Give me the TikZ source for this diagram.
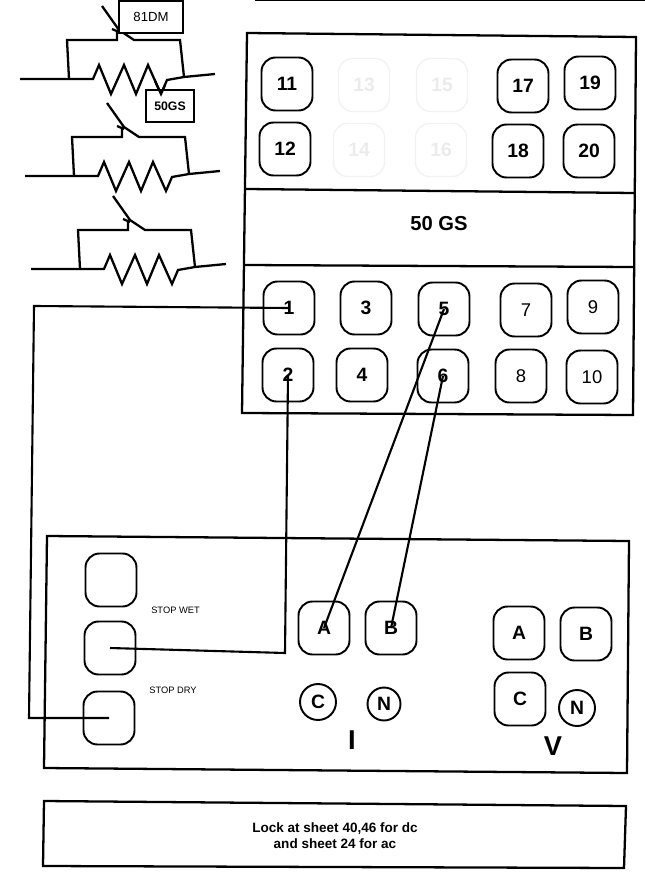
\documentclass[tikz,border=0pt]{standalone}
\usepackage{fontspec}
\setmainfont{Liberation Sans}
\tikzset{
	pad/.style={draw,line width=1.1pt,rounded corners=0.28cm,inner sep=0pt,minimum width=1.02cm,minimum height=1.06cm,font=\fontsize{11}{13}\selectfont\bfseries},
	padlight/.style={pad,font=\fontsize{10.5}{13}\selectfont},
	padfaint/.style={pad,draw=black!5,text=black!8,line width=0.8pt},
	round/.style={draw,circle,line width=1.1pt,inner sep=0pt,font=\fontsize{11}{13}\selectfont\bfseries},
	frame/.style={line width=1.3pt},
	wire/.style={line width=1.2pt},
	tag/.style={draw,line width=0.6pt,inner sep=0pt,minimum height=0.64cm,fill=white}
}
\begin{document}
\begin{tikzpicture}[x=0.02cm,y=-0.02cm]
	\useasboundingbox (0,0) rectangle (645,885);
	% Scan edge
	\draw[line width=1.2pt] (255,0) -- (645,0);
	% Upper panel
	\draw[frame] (247,33) -- (636,37) -- (633,415) -- (242,413) -- cycle;
	\draw[frame] (246,189) -- (634,193);
	\draw[frame] (244,265) -- (634,267);
	\node[font=\fontsize{11.5}{13}\selectfont\bfseries] (title) at (439,224) {50 GS};
	% Lower panel
	\draw[frame] (47,536) -- (629,541) -- (627,773) -- (44,768) -- cycle;
	% Note
	\draw[frame] (44,801) -- (626,806) -- (624,868) -- (43,866) -- cycle;
	\node[align=center,font=\fontsize{7.7}{9}\selectfont\bfseries] (note) at (335,836) {Lock at sheet 40,46 for dc\\and sheet 24 for ac};
	% Heaters
	\foreach \dx/\dy in {0/0,5/97,11/190}{
		\begin{scope}[shift={(\dx,\dy)},line width=1.3pt]
			\draw (20,79) -- (93,79) -- (99,65) -- (111,94) -- (124,65) -- (136,94) -- (148,65) -- (161,94) -- (167,80) -- (184,77) -- (215,74);
			\draw (69,79) -- (67,40) -- (117,40) -- (117,30);
			\draw (102,6) -- (119,30) -- (134,40) -- (180,40) -- (184,77);
			\draw (112,29) -- (119,32);
		\end{scope}
	}
	\node[tag,minimum width=1.28cm,font=\fontsize{7.5}{9}\selectfont] (dm) at (151,17) {81DM};
	\node[tag,minimum width=0.96cm,font=\fontsize{7}{9}\selectfont\bfseries] (gs) at (170,106) {50GS};
	\draw[line width=1.3pt] (155,81) -- (161,94) -- (165,85);
	% Faint pads
	\foreach \n/\x/\y in {13/364/85,15/442/85,14/359/150,16/441/150}
		\node[padfaint] (p\n) at (\x,\y) {\n};
	% Bold pads
	\foreach \n/\x/\y in {11/287/84,17/523/86,19/590/83,12/285/149,18/518/151,20/589/151,
		1/289/308,3/366/308,5/444/309,2/288/375,4/362/375,6/443/376}
		\node[pad] (p\n) at (\x,\y) {\n};
	% Plain pads
	\foreach \n/\x/\y in {7/526/310,9/593/307,8/521/376,10/592/377}
		\node[padlight] (p\n) at (\x,\y) {\n};
	% Stop pads
	\node[pad] (blank) at (111,580) {};
	\node[pad] (wet) at (110,648) {};
	\node[pad] (dry) at (109,718) {};
	\node[font=\fontsize{5.3}{6}\selectfont] (wetlabel) at (175.5,610) {STOP WET};
	\node[font=\fontsize{5.3}{6}\selectfont] (drylabel) at (173,690) {STOP DRY};
	% Current
	\node[pad] (ia) at (324,628) {A};
	\node[pad] (ib) at (391,628) {B};
	\node[round,minimum size=0.72cm] (ic) at (318,702) {C};
	\node[round,minimum size=0.66cm] (in) at (384,704) {N};
	\node[font=\fontsize{15.5}{18}\selectfont\bfseries] (ilabel) at (352,740) {I};
	% Voltage
	\node[pad] (va) at (519,633) {A};
	\node[pad] (vb) at (586,634) {B};
	\node[pad] (vc) at (520,699) {C};
	\node[round,minimum size=0.72cm] (vn) at (577,708) {N};
	\node[font=\fontsize{15.5}{18}\selectfont\bfseries] (vlabel) at (553,746) {V};
	% Wiring
	\coordinate (c1) at (34,306);
	\coordinate (c2) at (29,718);
	\coordinate (c3) at (285,653);
	\draw[wire] (p1.center) -- (c1) -- (c2) -- (dry.center);
	\draw[wire] (p2.center) -- (c3) -- (wet.center);
	\draw[wire] (p5.center) -- (ia.center);
	\draw[wire] (p6.center) -- (ib.center);
\end{tikzpicture}
\end{document}
